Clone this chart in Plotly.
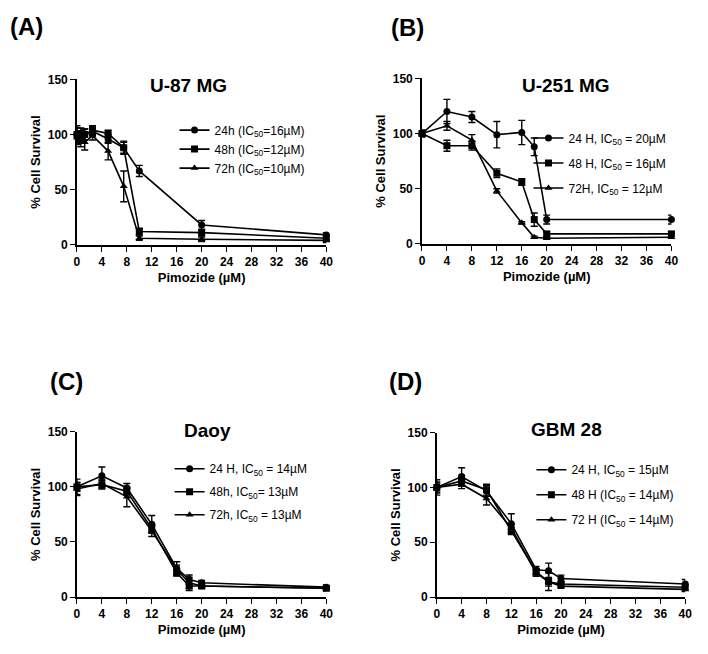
import plotly.graph_objects as go

# ---------------- DATA ----------------
xA = [0, 0.625, 1.25, 2.5, 5, 7.5, 10, 20, 40]
a24 = [100, 98, 100, 103, 96, 88, 67, 18, 9]
a24e = [8, 5, 5, 4, 4, 5, 5, 4, 2]
a48 = [100, 101, 100, 104, 101, 88, 12, 11, 6]
a48e = [6, 5, 5, 4, 3, 6, 3, 3, 2]
a72 = [97, 95, 93, 99, 85, 53, 6, 5, 4]
a72e = [6, 6, 7, 4, 8, 14, 2, 2, 2]

xB = [0, 4, 8, 12, 16, 18, 20, 40]
b24 = [100, 120, 115, 99, 101, 88, 22, 22]
b24e = [3, 11, 5, 12, 11, 8, 4, 4]
b48 = [100, 89, 89, 64, 56, 22, 9, 9]
b48e = [3, 5, 4, 4, 3, 6, 2, 2]
b72 = [100, 107, 94, 48, 19, 6, 5, 6]
b72e = [2, 4, 5, 2, 1, 1, 1, 1]

xC = [0, 4, 8, 12, 16, 18, 20, 40]
c24 = [100, 110, 99, 66, 26, 16, 13, 9]
c24e = [7, 8, 4, 8, 6, 4, 2, 2]
c48 = [100, 102, 96, 62, 22, 10, 10, 8]
c48e = [4, 4, 3, 4, 3, 4, 2, 2]
c72 = [98, 103, 91, 60, 25, 13, 10, 8]
c72e = [6, 4, 9, 5, 4, 5, 2, 2]

xD = [0, 4, 8, 12, 16, 18, 20, 40]
d24 = [100, 110, 97, 67, 25, 24, 17, 12]
d24e = [7, 8, 5, 9, 3, 7, 3, 4]
d48 = [100, 106, 98, 61, 23, 14, 12, 9]
d48e = [4, 5, 5, 4, 3, 4, 2, 2]
d72 = [100, 103, 90, 63, 22, 14, 10, 7]
d72e = [5, 4, 6, 4, 3, 8, 2, 2]

xticks = [0, 4, 8, 12, 16, 20, 24, 28, 32, 36, 40]
yticks = [0, 50, 100, 150]

panels = [
    dict(letter="(A)", title="U-87 MG", x=xA,
         series=[(a24, a24e, "24h (IC<sub>50</sub>=16µM)", "circle"),
                 (a48, a48e, "48h (IC<sub>50</sub>=12µM)", "square"),
                 (a72, a72e, "72h (IC<sub>50</sub>=10µM)", "triangle-up")]),
    dict(letter="(B)", title="U-251 MG", x=xB,
         series=[(b24, b24e, "24 H, IC<sub>50</sub> = 20µM", "circle"),
                 (b48, b48e, "48 H, IC<sub>50</sub> = 16µM", "square"),
                 (b72, b72e, "72H, IC<sub>50</sub> = 12µM", "triangle-up")]),
    dict(letter="(C)", title="Daoy", x=xC,
         series=[(c24, c24e, "24 H, IC<sub>50</sub> = 14µM", "circle"),
                 (c48, c48e, "48h, IC<sub>50</sub>= 13µM", "square"),
                 (c72, c72e, "72h, IC<sub>50</sub> = 13µM", "triangle-up")]),
    dict(letter="(D)", title="GBM 28", x=xD,
         series=[(d24, d24e, "24 H, IC<sub>50</sub> = 15µM", "circle"),
                 (d48, d48e, "48 H (IC<sub>50</sub> = 14µM)", "square"),
                 (d72, d72e, "72 H (IC<sub>50</sub> = 14µM)", "triangle-up")]),
]

# ---------------- LAYOUT (pixel geometry) ----------------
W, H = 708, 654
FONT = "Arial, 'Liberation Sans', sans-serif"
geom = [
    dict(px=(75, 328), py=(74, 243), lp=(24, 20), tp=(188, 80), lg=(174, 111), gap=0),
    dict(px=(425, 678), py=(73, 242), lp=(410, 21), tp=(571, 80), lg=(533, 119), gap=6),
    dict(px=(75, 328), py=(434, 603), lp=(64, 383), tp=(207, 433), lg=(169, 457), gap=4),
    dict(px=(440, 692), py=(435, 603), lp=(408, 383), tp=(572, 432), lg=(536, 458), gap=6),
]

fig = go.Figure()
layout = dict(width=W, height=H, margin=dict(l=0, r=0, t=0, b=0),
              paper_bgcolor="white", plot_bgcolor="white", showlegend=True,
              font=dict(family=FONT, color="black"))
annotations = []

for i, (p, g) in enumerate(zip(panels, geom)):
    n = i + 1
    xa = "x" if n == 1 else f"x{n}"
    ya = "y" if n == 1 else f"y{n}"
    lg = "legend" if n == 1 else f"legend{n}"
    for j, (ys, es, name, sym) in enumerate(p["series"]):
        fig.add_trace(go.Scatter(
            x=p["x"], y=ys, name=name, mode="lines+markers",
            xaxis=xa, yaxis=ya, legend=lg, legendgroup=f"p{n}s{j}",
            line=dict(color="black", width=1.6),
            marker=dict(symbol=sym, size=7, color="black"),
            error_y=dict(type="data", array=es, visible=True, color="black",
                         thickness=1.4, width=3.5),
            cliponaxis=False,
        ))
    dx = [g["px"][0] / W, g["px"][1] / W]
    dy = [1 - g["py"][1] / H, 1 - g["py"][0] / H]
    axcommon = dict(showline=True, linecolor="black", linewidth=1.6,
                    ticks="outside", ticklen=5, tickwidth=1.4, tickcolor="black",
                    showgrid=False, zeroline=False,
                    tickfont=dict(family=FONT, size=12, color="black", weight="bold"))
    layout[f"xaxis{'' if n == 1 else n}"] = dict(
        axcommon, domain=dx, anchor=ya, range=[0, 40], tickvals=xticks,
        ticktext=[str(t) for t in xticks],
        title=dict(text="Pimozide (µM)", standoff=5,
                   font=dict(family=FONT, size=13, weight="bold")))
    layout[f"yaxis{'' if n == 1 else n}"] = dict(
        axcommon, domain=dy, anchor=xa, range=[0, 150], tickvals=yticks,
        title=dict(text="% Cell Survival", standoff=4,
                   font=dict(family=FONT, size=13, weight="bold")))
    layout[lg] = dict(x=g["lg"][0] / W, y=1 - g["lg"][1] / H, xanchor="left",
                      yanchor="top", bgcolor="rgba(0,0,0,0)", borderwidth=0,
                      tracegroupgap=g["gap"],
                      font=dict(family=FONT, size=12, color="black"))
    annotations.append(dict(text=p["letter"], x=g["lp"][0] / W, y=1 - g["lp"][1] / H,
                            xref="paper", yref="paper", showarrow=False,
                            xanchor="center", yanchor="middle",
                            font=dict(family=FONT, size=24, weight="bold")))
    annotations.append(dict(text=p["title"], x=g["tp"][0] / W, y=1 - g["tp"][1] / H,
                            xref="paper", yref="paper", showarrow=False,
                            xanchor="center", yanchor="middle",
                            font=dict(family=FONT, size=19, weight="bold")))

layout["annotations"] = annotations
fig.update_layout(**layout)
fig.write_html("out.html", config={"displayModeBar": False},
               post_script="document.body.style.margin='0';document.body.style.overflow='hidden';")
